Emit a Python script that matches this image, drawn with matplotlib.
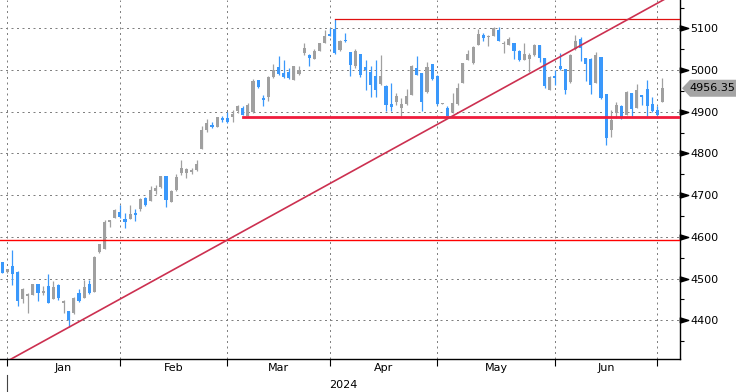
import matplotlib
matplotlib.use("Agg")
import matplotlib.pyplot as plt
import numpy as np
from matplotlib.patches import Polygon
from matplotlib.transforms import blended_transform_factory, IdentityTransform

# daily candles, trading-day index (Jan 2 2024 = 0)
days = np.arange(-1, 129)

opens = [4539, 4516, 4530, 4516, 4451, 4457, 4461, 4487, 4465, 4482,
         4451, 4485, 4442, 4422, 4417, 4466, 4454, 4487, 4468, 4563,
         4571, 4636, 4645, 4659, 4643, 4643, 4657, 4667, 4693, 4686,
         4710, 4719, 4746, 4684, 4712, 4753, 4753, 4755, 4760, 4811,
         4856, 4869, 4864, 4885, 4885, 4887, 4901, 4909, 4890, 4899,
         4976, 4933, 4935, 4983, 5007, 4993, 4995, 4976, 4990, 5041,
         5036, 5027, 5046, 5065, 5087, 5098, 5048, 5072, 5043, 5010,
         5038, 5007, 4995, 4986, 4966, 4962, 4918, 4923, 4909, 4918,
         4940, 5005, 4993, 4947, 5014, 4986, 4919, 4909, 4899, 4918,
         4969, 5024, 5017, 5060, 5084, 5080, 5082, 5096, 5062, 5060,
         5065, 5046, 5024, 5027, 5036, 5060, 5029, 4952, 4986, 5010,
         5002, 4971, 5050, 5074, 5029, 5027, 4969, 5031, 4942, 4856,
         4897, 4914, 4892, 4945, 4909, 4940, 4954, 4918, 4904, 4924]
highs = [4540, 4524, 4568, 4518, 4478, 4465, 4488, 4488, 4481, 4511,
         4494, 4486, 4449, 4423, 4456, 4475, 4496, 4496, 4553, 4584,
         4640, 4641, 4666, 4676, 4656, 4676, 4667, 4694, 4696, 4722,
         4724, 4747, 4747, 4712, 4751, 4785, 4765, 4765, 4784, 4866,
         4883, 4875, 4888, 4890, 4899, 4904, 4915, 4913, 4921, 4978,
         4977, 4940, 4986, 5015, 5034, 5024, 5005, 5010, 5009, 5065,
         5038, 5050, 5066, 5096, 5101, 5122, 5072, 5088, 5044, 5050,
         5039, 5025, 5010, 5024, 5036, 4963, 4969, 4945, 4933, 4955,
         5012, 5034, 4994, 5019, 5015, 4988, 4920, 4913, 4945, 4969,
         5018, 5048, 5058, 5098, 5089, 5084, 5103, 5103, 5070, 5079,
         5066, 5047, 5065, 5041, 5062, 5061, 5030, 4986, 5000, 5041,
         5003, 5038, 5084, 5079, 5030, 5028, 5043, 5032, 4943, 4904,
         4923, 4916, 4950, 4946, 4966, 4941, 4976, 4935, 4914, 4981]
lows = [4513, 4514, 4484, 4434, 4441, 4418, 4460, 4446, 4460, 4441,
        4450, 4449, 4417, 4383, 4416, 4444, 4453, 4464, 4467, 4562,
        4570, 4624, 4644, 4644, 4620, 4642, 4638, 4662, 4675, 4685,
        4703, 4718, 4671, 4683, 4711, 4748, 4741, 4750, 4759, 4810,
        4851, 4860, 4863, 4875, 4873, 4875, 4898, 4892, 4889, 4898,
        4958, 4914, 4926, 4982, 4989, 4982, 4978, 4975, 4989, 5036,
        5010, 5026, 5045, 5064, 5081, 5038, 5046, 5067, 4985, 5005,
        4983, 4952, 4936, 4936, 4965, 4901, 4901, 4916, 4890, 4917,
        4939, 4987, 4901, 4946, 4977, 4917, 4918, 4889, 4898, 4917,
        4968, 5023, 5014, 5059, 5070, 5057, 5081, 5069, 5041, 5059,
        5027, 5022, 5023, 4995, 5034, 5019, 4957, 4951, 4964, 5000,
        4943, 4970, 5049, 5022, 4974, 4943, 4968, 4930, 4821, 4839,
        4885, 4883, 4891, 4890, 4908, 4916, 4890, 4899, 4885, 4923]
closes = [4514, 4523, 4512, 4447, 4475, 4463, 4487, 4466, 4470, 4442,
          4480, 4453, 4447, 4401, 4453, 4446, 4480, 4465, 4552, 4583,
          4636, 4640, 4664, 4647, 4636, 4655, 4652, 4691, 4676, 4712,
          4717, 4746, 4688, 4710, 4743, 4765, 4762, 4760, 4774, 4856,
          4873, 4864, 4887, 4880, 4875, 4894, 4913, 4892, 4916, 4974,
          4959, 4928, 4983, 5000, 4990, 4983, 4981, 5009, 5000, 5053,
          5029, 5046, 5065, 5082, 5082, 5041, 5069, 5069, 5012, 5046,
          4988, 5000, 4964, 4952, 4986, 4916, 4911, 4938, 4918, 4938,
          5010, 4988, 4923, 5007, 4978, 4918, 4920, 4890, 4921, 4957,
          5017, 5038, 5055, 5086, 5077, 5082, 5100, 5070, 5065, 5074,
          5046, 5024, 5038, 5036, 5060, 5029, 4962, 4983, 4981, 5002,
          4952, 5036, 5070, 5053, 5014, 4964, 5036, 4933, 4837, 4880,
          4916, 4885, 4947, 4907, 4952, 4935, 4914, 4902, 4892, 4956.35]

month_starts = [0, 22, 43, 63, 84, 107, 127]
month_labels = ['Jan', 'Feb', 'Mar', 'Apr', 'May', 'Jun']
year_label = '2024'

# drawn levels
support = 4888       # thick red, from day 46
support_from = 46
top_level = 5122     # thin red, from day 64
top_from = 64
low_level = 4592.5   # thin red, full width
trend_x = [12, 43]
trend_y = [4383, 4592.5]

UP = '#a0a0a0'
DOWN = '#3a98fb'

fig = plt.figure(figsize=(7.36, 3.92), dpi=100)
ax = fig.add_axes([0, 33 / 392, 680 / 736, 359 / 392])
ax.set_xlim(-1.43, 131.44)
ax.set_ylim(4307, 5168)

o = np.array(opens); h = np.array(highs); l = np.array(lows); c = np.array(closes)
cols = np.where(c >= o, UP, DOWN)

# grid
for v in range(4400, 5101, 100):
    ax.axhline(v, color='#808080', lw=0.72, ls=(0, (2, 3.5)), zorder=0)
for m in month_starts:
    ax.axvline(m, color='#808080', lw=0.72, ls=(0, (2, 3.5)), zorder=0)

# candles
ax.vlines(days, l, h, colors=cols, lw=0.9, zorder=2)
body_lo = np.minimum(o, c)
body_h = np.maximum(np.abs(c - o), 2.0)
ax.bar(days, body_h, bottom=body_lo, width=0.6, color=cols, lw=0, zorder=3)

# levels
ax.axhline(low_level, color='#ff0000', lw=1.0, zorder=4)
ax.plot([support_from, 133], [support, support], color='#f01c3c', lw=2.0, zorder=4)
ax.plot([top_from, 133], [top_level, top_level], color='#e01010', lw=0.9, zorder=4)
fit = np.polyfit(trend_x, trend_y, 1)
tx = np.array([-2, 133])
ax.plot(tx, np.polyval(fit, tx), color='#cc3050', lw=1.2, zorder=4)

# spines
for s in ['left', 'top']:
    ax.spines[s].set_visible(False)
ax.spines['right'].set_linewidth(1.0)
ax.spines['bottom'].set_linewidth(1.0)

# y axis on right
ax.yaxis.tick_right()
ax.set_yticks(range(4400, 5101, 100))
ax.set_yticklabels([str(v) for v in range(4400, 5101, 100)], fontsize=8)
ax.set_yticks(range(4350, 5200, 100), minor=True)
ax.tick_params(axis='y', which='major', length=0, pad=7.5)
ax.tick_params(axis='y', which='minor', length=3, width=0.8, direction='out')
tri = blended_transform_factory(ax.transAxes, ax.transData)
ax.plot([1.0059] * 8, list(range(4400, 5101, 100)), ls='none',
        marker=[(-1, -0.62), (-1, 0.62), (1, 0), (-1, -0.62)],
        ms=6, color='black', transform=tri, clip_on=False)

# x axis
ax.set_xticks(month_starts)
ax.set_xticklabels([])
ax.tick_params(axis='x', which='major', length=5, width=0.8, direction='out')
mids = [(month_starts[i] + month_starts[i + 1]) / 2 for i in range(len(month_labels))]
ax.set_xticks(mids, minor=True)
ax.set_xticklabels(month_labels, minor=True, fontsize=8)
ax.tick_params(axis='x', which='minor', length=0, pad=3)
xtr = blended_transform_factory(ax.transData, fig.transFigure)
ax.plot([month_starts[0], month_starts[0]], [0, 17 / 392], color='#444444', lw=0.8,
        transform=xtr, clip_on=False)
fig.text(343 / 736, 7 / 392, year_label, fontsize=8, ha='center', va='center')

# last price tag
fig.canvas.draw()
py = ax.transData.transform((0, closes[-1]))[1]
tag = Polygon([(682, py), (690, py + 8.5), (736, py + 8.5), (736, py - 8.5), (690, py - 8.5)],
              closed=True, fc='#a4a4a4', ec='none', transform=IdentityTransform())
fig.add_artist(tag)
fig.text(689 / 736, py / 392, '%.2f' % closes[-1], fontsize=8, ha='left', va='center')

fig.savefig('out.png', dpi=100)
plt.close()
